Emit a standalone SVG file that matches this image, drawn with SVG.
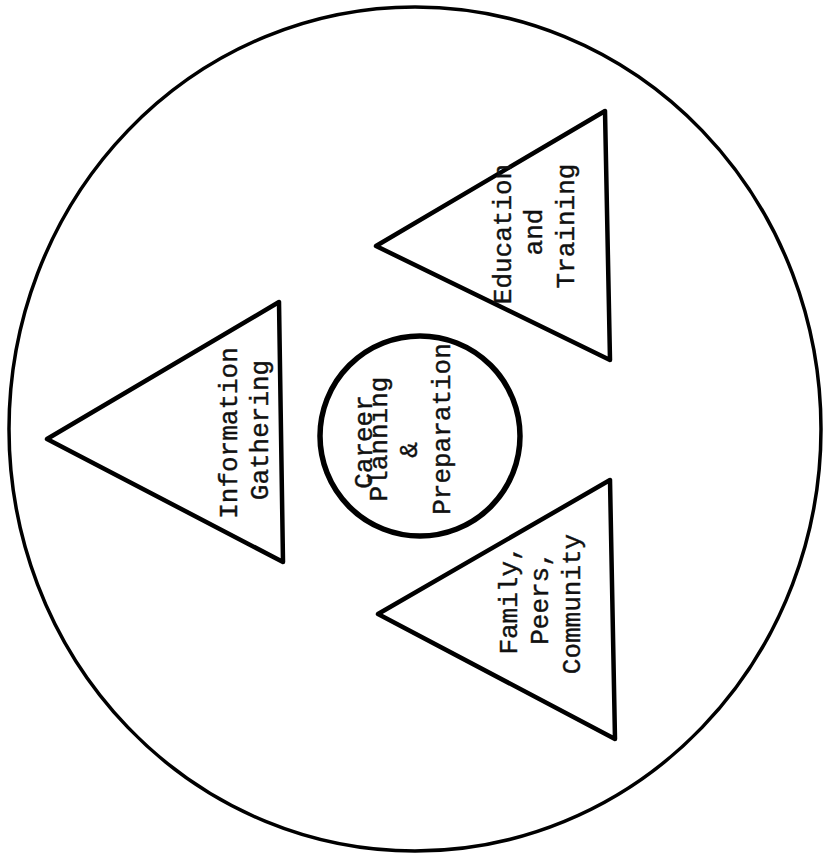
<svg xmlns="http://www.w3.org/2000/svg" width="823" height="855" viewBox="0 0 823 855">
<style>
.shape{fill:none;stroke:#000;stroke-linejoin:round}
.tri{stroke-width:4.5}
.lbl{font-family:"Liberation Mono","Courier New",monospace;font-size:26px;fill:#111;stroke:#111;stroke-width:0.4;text-anchor:middle}
</style>
<rect width="823" height="855" fill="#fff"/>
<g id="outer">
<ellipse class="shape" cx="415" cy="429" rx="406" ry="422" stroke-width="3.5"/>
</g>
<g id="connectors"/>
<g id="center">
<circle class="shape" cx="420" cy="436" r="100" stroke-width="5.5"/>
<text class="lbl" x="372" y="442" transform="rotate(-90 372 442)">Career</text>
<text class="lbl" x="387" y="439" transform="rotate(-90 387 439)">Planning</text>
<text class="lbl" x="417" y="450" transform="rotate(-90 417 450)">&amp;</text>
<text class="lbl" x="450" y="429" transform="rotate(-90 450 429)">Preparation</text>
</g>
<g id="info">
<polygon class="shape tri" points="47,439 279,302 283,562"/>
<text class="lbl" x="237" y="433" transform="rotate(-90 237 433)">Information</text>
<text class="lbl" x="268" y="430" transform="rotate(-90 268 430)">Gathering</text>
</g>
<g id="education">
<polygon class="shape tri" points="376,246 605,111 610,360"/>
<text class="lbl" x="511" y="234" transform="rotate(-90 511 234)">Education</text>
<text class="lbl" x="542" y="232" transform="rotate(-90 542 232)">and</text>
<text class="lbl" x="574" y="226" transform="rotate(-90 574 226)">Training</text>
</g>
<g id="family">
<polygon class="shape tri" points="378,614 610,480 615,739"/>
<text class="lbl" x="517" y="600" transform="rotate(-90 517 600)">Family,</text>
<text class="lbl" x="548" y="598" transform="rotate(-90 548 598)">Peers,</text>
<text class="lbl" x="580" y="604" transform="rotate(-90 580 604)">Community</text>
</g>
</svg>
